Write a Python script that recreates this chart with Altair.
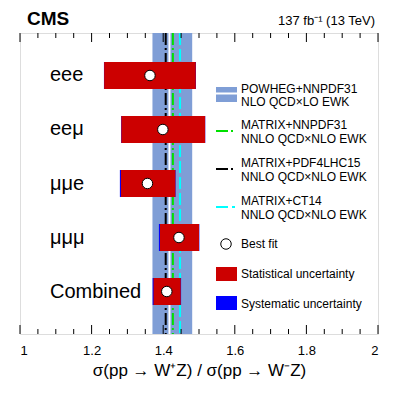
import altair as alt
import pandas as pd

FONT = "Liberation Sans"

# ---- data ----
channels = ["eee", "eeμ", "μμe", "μμμ", "Combined"]
best_fit = [1.363, 1.399, 1.356, 1.444, 1.410]
stat_lo = [1.235, 1.283, 1.282, 1.391, 1.373]
stat_hi = [1.491, 1.517, 1.434, 1.500, 1.449]
tot_lo = [1.2345, 1.2825, 1.279, 1.388, 1.3705]
tot_hi = [1.4915, 1.5175, 1.4345, 1.501, 1.450]

powheg_lo = [1.370]
powheg_hi = [1.481]
powheg_central = [1.4175]
matrix_nnpdf = [1.427]
matrix_pdf4lhc = [1.407]
matrix_ct14 = [1.447]

major_ticks = [1.0, 1.2, 1.4, 1.6, 1.8, 2.0]
minor_ticks = [1.05, 1.1, 1.15, 1.25, 1.3, 1.35, 1.45, 1.5, 1.55, 1.65, 1.7, 1.75, 1.85, 1.9, 1.95]

legend_lines = [
    ("POWHEG+NNPDF31", "NLO QCD×LO EWK"),
    ("MATRIX+NNPDF31", "NNLO QCD×NLO EWK"),
    ("MATRIX+PDF4LHC15", "NNLO QCD×NLO EWK"),
    ("MATRIX+CT14", "NNLO QCD×NLO EWK"),
]
legend_single = ["Best fit", "Statistical uncertainty", "Systematic uncertainty"]

W, H = 358, 301

df = pd.DataFrame({
    "ch": channels, "fit": best_fit,
    "slo": stat_lo, "shi": stat_hi, "tlo": tot_lo, "thi": tot_hi,
})

xscale = alt.Scale(domain=[1, 2], nice=False, zero=False)
yscale = alt.Scale(type="point", domain=channels, padding=0.787)

xaxis = alt.Axis(values=major_ticks, format="~g", ticks=False, domain=False, grid=False,
                 labelFontSize=13, labelFont=FONT, labelColor="black", labelPadding=10,
                 title="σ(pp → W⁺Z) / σ(pp → W⁻Z)", titleFontSize=17, titleFont=FONT,
                 titleFontWeight="normal", titleColor="black", titlePadding=5)

base = alt.Chart(df)

band = alt.Chart(pd.DataFrame({"lo": powheg_lo, "hi": powheg_hi})).mark_rect(color="#7f9ed6").encode(
    x=alt.X("lo:Q", scale=xscale, axis=xaxis), x2="hi:Q")

white = alt.Chart(pd.DataFrame({"v": powheg_central})).mark_rule(color="white", strokeWidth=2).encode(
    x=alt.X("v:Q", scale=xscale))

def vline(vals, color, dash):
    return alt.Chart(pd.DataFrame({"v": vals})).mark_rule(color=color, strokeWidth=2, strokeDash=dash).encode(
        x=alt.X("v:Q", scale=xscale))

l_black = vline(matrix_pdf4lhc, "black", [12, 3, 2, 3])
l_green = vline(matrix_nnpdf, "#00e000", [12, 3, 2, 3])
l_cyan = vline(matrix_ct14, "#00ffff", [12, 4])

ycode = alt.Y("ch:N", scale=yscale, axis=None)

syst = base.mark_bar(color="#0000ff", height=27).encode(
    x=alt.X("tlo:Q", scale=xscale), x2="thi:Q", y=ycode)
stat = base.mark_bar(color="#cc0000", height=27).encode(
    x=alt.X("slo:Q", scale=xscale), x2="shi:Q", y=ycode)
pts = base.mark_point(shape="circle", filled=True, fill="white", stroke="black", strokeWidth=1,
                      size=110, opacity=1).encode(x=alt.X("fit:Q", scale=xscale), y=ycode)
ylabels = base.mark_text(align="left", baseline="middle", fontSize=20, font=FONT, color="black").encode(
    x=alt.value(30), y=ycode, text="ch:N")

# ticks inside the frame
def ticks(vals, y0, y1):
    return alt.Chart(pd.DataFrame({"v": vals})).mark_rule(color="black", strokeWidth=1).encode(
        x=alt.X("v:Q", scale=xscale), y=alt.value(y0), y2=alt.value(y1))

tick_layers = [
    ticks(major_ticks, 0, 9), ticks(minor_ticks, 0, 5),
    ticks(major_ticks, H - 9, H), ticks(minor_ticks, H - 5, H),
]

def txt(s, x, y, size=12, align="left", weight="normal"):
    return alt.Chart(pd.DataFrame({"t": [s]})).mark_text(
        align=align, baseline="middle", fontSize=size, font=FONT, color="black", fontWeight=weight
    ).encode(x=alt.value(x), y=alt.value(y), text="t:N")

def box(x0, x1, y0, y1, color):
    return alt.Chart(pd.DataFrame({"a": [0]})).mark_rect(color=color).encode(
        x=alt.value(x0), x2=alt.value(x1), y=alt.value(y0), y2=alt.value(y1))

def seg(x0, x1, y, color, dash):
    return alt.Chart(pd.DataFrame({"a": [0]})).mark_rule(color=color, strokeWidth=2, strokeDash=dash).encode(
        x=alt.value(x0), x2=alt.value(x1), y=alt.value(y))

LX0, LX1, TX = 196, 217, 221
legend = []
# POWHEG
legend += [box(LX0, LX1, 54, 59.5, "#7f9ed6"), box(LX0, LX1, 61.5, 69, "#7f9ed6"),
           txt(legend_lines[0][0], TX, 55.5), txt(legend_lines[0][1], TX, 69)]
# MATRIX lines
for (l1, l2), yc, col, dash in zip(legend_lines[1:], [92, 130, 168],
                                   ["#00e000", "black", "#00ffff"],
                                   [[12, 3, 2, 3], [12, 3, 2, 3], [12, 4]]):
    legend += [seg(LX0, LX1 - 2, yc + 6, col, dash), txt(l1, TX, yc), txt(l2, TX, yc + 14)]
# best fit
legend += [alt.Chart(pd.DataFrame({"a": [0]})).mark_point(shape="circle", filled=True, fill="white",
            stroke="black", strokeWidth=1, size=110, opacity=1).encode(x=alt.value(206), y=alt.value(211)),
           txt(legend_single[0], TX, 211)]
legend += [box(LX0, LX1, 234, 248, "#cc0000"), txt(legend_single[1], TX, 241)]
legend += [box(LX0, LX1, 263, 277, "#0000ff"), txt(legend_single[2], TX, 271)]

titles = [txt("CMS", 7, -14, size=19, weight="bold"),
          txt("137 fb⁻¹ (13 TeV)", 355, -12, size=13, align="right")]

chart = alt.layer(band, white, l_black, l_green, l_cyan, syst, stat, pts, ylabels,
                  *tick_layers, *legend, *titles).properties(
    width=W, height=H,
    autosize=alt.AutoSizeParams(type="none"),
    padding={"left": 12, "top": 25, "right": 12, "bottom": 76},
).configure_view(stroke="black", strokeWidth=1.5).configure(background="white")

chart.save("out.html", embed_options={"renderer": "svg", "actions": False})
